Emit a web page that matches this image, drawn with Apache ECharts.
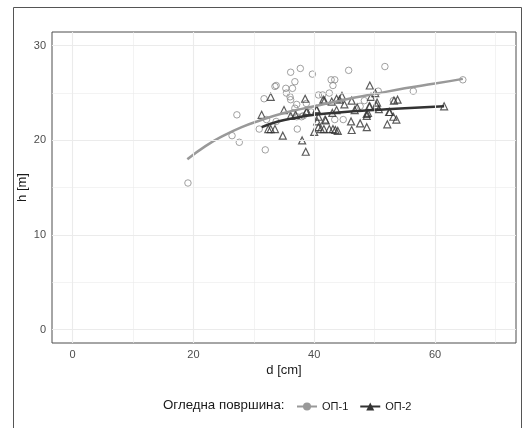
<!DOCTYPE html>
<html>
<head>
<meta charset="utf-8">
<script src="https://cdn.jsdelivr.net/npm/echarts@6/dist/echarts.min.js"></script>
<style>
  html, body { margin: 0; padding: 0; background: #fff; }
  #main { width: 524px; height: 428px; }
</style>
</head>
<body>
<div id="main"></div>
<script>
// ОП-1 (circles)
var d1 = [19.1, 27.2, 26.4, 27.6, 31.9, 30.9, 32.1, 31.7, 33.7, 33.5, 33.7, 36.1, 37.7, 39.7, 36.8, 35.3, 36.4, 35.4, 36.0, 36.1, 37.1, 37.2, 42.8, 43.4, 43.1, 42.5, 40.7, 41.4, 38.2, 45.7, 51.7, 64.6, 56.4, 53.1, 48.3, 50.6, 47.6, 43.4, 44.8, 38.7, 36.8, 37.1, 36.5, 37.9, 39.5];
var h1 = [15.5, 22.7, 20.5, 19.8, 19.0, 21.2, 22.2, 24.4, 22.0, 25.7, 25.8, 27.2, 27.6, 27.0, 26.2, 25.5, 25.5, 25.0, 24.6, 24.3, 23.8, 21.2, 26.4, 26.4, 25.8, 25.0, 24.8, 24.8, 22.6, 27.4, 27.8, 26.4, 25.2, 24.2, 24.2, 25.2, 23.6, 22.2, 22.2, 23.9, 23.4, 22.5, 22.9, 22.5, 23.0];

// ОП-2 (triangles)
var d2 = [49.2, 38.5, 44.6, 43.7, 44.2, 41.7, 42.9, 46.2, 49.4, 50.1, 50.4, 53.8, 53.2, 45.0, 49.2, 46.7, 47.1, 40.4, 43.7, 38.7, 50.7, 52.5, 48.9, 48.7, 43.0, 53.1, 53.6, 40.7, 40.5, 41.8, 41.9, 46.1, 47.6, 48.7, 52.1, 40.7, 41.1, 41.6, 42.5, 43.1, 43.5, 43.9, 40.0, 46.2, 38.0, 38.6, 61.5, 32.8, 31.3, 35.0, 36.1, 38.8, 40.4, 32.4, 33.5, 32.8, 34.8, 41.5, 50.3, 49.1, 48.7, 52.4, 36.9];
var h2 = [25.8, 24.4, 24.7, 24.4, 24.3, 24.2, 24.1, 24.2, 24.6, 25.0, 24.0, 24.3, 24.2, 23.8, 23.6, 23.2, 23.5, 23.2, 23.2, 23.0, 23.3, 23.0, 22.9, 22.6, 22.9, 22.5, 22.2, 22.5, 22.0, 22.2, 22.1, 22.0, 21.8, 21.4, 21.7, 21.4, 21.2, 21.2, 21.2, 21.2, 21.1, 21.0, 20.9, 21.1, 20.0, 18.8, 23.6, 24.6, 22.7, 23.2, 22.6, 23.1, 23.3, 21.2, 21.2, 21.2, 20.5, 24.3, 23.7, 23.6, 22.8, 23.0, 22.7];

// fitted curves
var fitD1 = [19, 22, 25, 28, 31, 35, 40, 45, 50, 55, 60, 64.6];
var fitH1 = [18.0, 19.4, 20.5, 21.4, 22.1, 22.9, 23.6, 24.3, 24.9, 25.5, 26.0, 26.5];
var fitD2 = [31.3, 34, 37, 40, 45, 50, 55, 61.5];
var fitH2 = [21.4, 22.0, 22.4, 22.7, 23.0, 23.2, 23.4, 23.6];

var xTicks = [0, 20, 40, 60];
var yTicks = [0, 10, 20, 30];
var xMinor = [10, 30, 50, 70];
var yMinor = [5, 15, 25];

var names = ['ОП-1', 'ОП-2'];

function pairs(a, b) {
  return a.map(function (v, i) { return [v, b[i]]; });
}

var gridLines = [];
xTicks.forEach(function (v) { gridLines.push({ xAxis: v, lineStyle: { width: 1.1 } }); });
yTicks.forEach(function (v) { gridLines.push({ yAxis: v, lineStyle: { width: 1.1 } }); });
xMinor.forEach(function (v) { gridLines.push({ xAxis: v, lineStyle: { width: 0.6 } }); });
yMinor.forEach(function (v) { gridLines.push({ yAxis: v, lineStyle: { width: 0.6 } }); });

var font = 'Liberation Sans, Arial, sans-serif';
var myChart = echarts.init(document.getElementById('main'));
myChart.setOption({
  animation: false,
  textStyle: { fontFamily: font },
  grid: {
    left: 52, right: 8, top: 32, bottom: 85,
    show: true, borderColor: '#4d4d4d', borderWidth: 1, backgroundColor: '#fff'
  },
  graphic: [
    { type: 'rect', shape: { x: 13.5, y: 7.5, width: 508, height: 440 }, style: { fill: null, stroke: '#555', lineWidth: 1 }, z: -10 },
    { type: 'text', left: 163, top: 399, style: { text: 'Огледна површина:', font: '13.3px ' + font, fill: '#1a1a1a' } }
  ],
  legend: {
    left: 291, top: 396,
    itemWidth: 20, itemHeight: 10, itemGap: 11,
    textStyle: { fontSize: 11, color: '#1a1a1a', fontFamily: font },
    data: names
  },
  xAxis: {
    type: 'value', min: -3.4, max: 73.4,
    name: 'd [cm]', nameLocation: 'middle', nameGap: 21, nameMoveOverlap: false,
    nameTextStyle: { fontSize: 13, color: '#1a1a1a' },
    axisLine: { show: false },
    axisTick: { show: true, customValues: xTicks, length: 3, lineStyle: { color: '#333' } },
    axisLabel: { customValues: xTicks, fontSize: 11, color: '#4d4d4d', margin: 6 },
    splitLine: { show: false }
  },
  yAxis: {
    type: 'value', min: -1.4, max: 31.45,
    name: 'h [m]', nameLocation: 'middle', nameGap: 23, nameRotate: 90, nameMoveOverlap: false,
    nameTextStyle: { fontSize: 13, color: '#1a1a1a' },
    axisLine: { show: false },
    axisTick: { show: true, customValues: yTicks, length: 3, lineStyle: { color: '#333' } },
    axisLabel: { customValues: yTicks, fontSize: 11, color: '#4d4d4d', margin: 6 },
    splitLine: { show: false }
  },
  series: [
    {
      name: names[0], type: 'line', data: pairs(fitD1, fitH1), smooth: true,
      symbol: 'circle', symbolSize: 5, showSymbol: false,
      itemStyle: { color: '#999' }, lineStyle: { color: '#999', width: 2.5 }, z: 4
    },
    {
      name: names[1], type: 'line', data: pairs(fitD2, fitH2), smooth: true,
      symbol: 'triangle', symbolSize: 6, showSymbol: false,
      itemStyle: { color: '#333' }, lineStyle: { color: '#333', width: 2.5 }, z: 4
    },
    {
      name: names[0], type: 'scatter', data: pairs(d1, h1),
      symbol: 'circle', symbolSize: 6.5,
      itemStyle: { color: 'transparent', borderColor: '#8a8a8a', borderWidth: 1 }, z: 3
    },
    {
      name: names[1], type: 'scatter', data: pairs(d2, h2),
      symbol: 'triangle', symbolSize: 7,
      itemStyle: { color: 'transparent', borderColor: '#333', borderWidth: 1.2 }, z: 3
    },
    {
      name: 'grid', type: 'scatter', data: [], silent: true, z: 1,
      markLine: {
        silent: true, symbol: 'none', label: { show: false },
        lineStyle: { color: '#ebebeb', type: 'solid' },
        data: gridLines
      }
    }
  ]
});
</script>
</body>
</html>
